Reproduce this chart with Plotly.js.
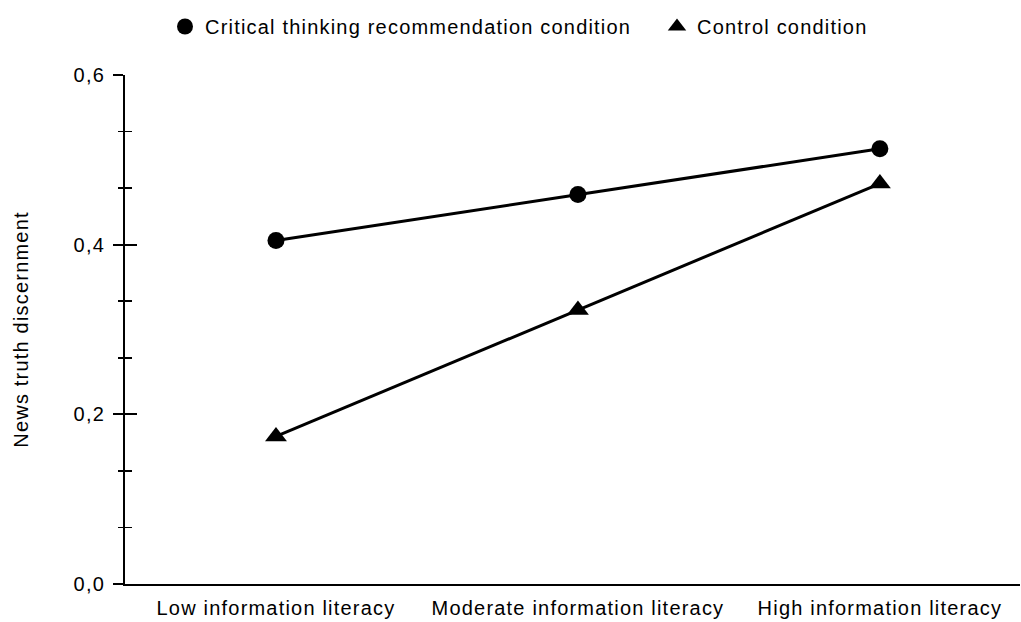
<!DOCTYPE html>
<html>
<head>
<meta charset="utf-8">
<script src="https://cdn.plot.ly/plotly-3.0.1.min.js"></script>
<style>
html,body{margin:0;padding:0;background:#fff;}
#chart{width:1021px;height:622px;}
svg text{letter-spacing:1.2px;}
</style>
</head>
<body>
<div id="chart"></div>
<script>
const categories = ["Low information literacy", "Moderate information literacy", "High information literacy"];
const criticalThinking = [0.405, 0.459, 0.513];
const control = [0.174, 0.323, 0.472];
const yTickVals = [0, 0.2, 0.4, 0.6];
const yTickText = ["0,0", "0,2", "0,4", "0,6"];
const seriesNames = ["Critical thinking recommendation condition", "Control condition"];
const xPos = [0, 1, 2];

const fam = "Liberation Sans, Arial, sans-serif";
const font = {family: fam, color: "#000", size: 20};

const traces = [
  {
    x: xPos, y: criticalThinking, type: "scatter", mode: "lines",
    line: {color: "#000", width: 3}, showlegend: false, hoverinfo: "skip"
  },
  {
    x: xPos, y: control, type: "scatter", mode: "lines",
    line: {color: "#000", width: 3}, showlegend: false, hoverinfo: "skip"
  },
  {
    x: xPos, y: criticalThinking, name: seriesNames[0],
    type: "scatter", mode: "markers",
    marker: {symbol: "circle", size: 17, color: "#000"},
    legend: "legend"
  },
  {
    x: xPos, y: control, name: seriesNames[1],
    type: "scatter", mode: "markers",
    marker: {symbol: "triangle-up", size: 19, color: "#000"},
    legend: "legend2"
  },
  {
    x: [], y: [], yaxis: "y2", type: "scatter", mode: "markers",
    showlegend: false, hoverinfo: "skip"
  }
];

const legendFont = {family: fam, size: 20, color: "#000"};
const layout = {
  width: 1021, height: 622,
  paper_bgcolor: "#fff", plot_bgcolor: "#fff",
  font: font,
  margin: {l: 125, r: 1, t: 75, b: 38},
  showlegend: true,
  legend: {
    orientation: "h", xref: "container", yref: "container",
    x: 165 / 1021, xanchor: "left", y: 1 - 7 / 622, yanchor: "top",
    font: legendFont, itemclick: false, bgcolor: "rgba(0,0,0,0)"
  },
  legend2: {
    orientation: "h", xref: "container", yref: "container",
    x: 657 / 1021, xanchor: "left", y: 1 - 7 / 622, yanchor: "top",
    font: legendFont, itemclick: false, bgcolor: "rgba(0,0,0,0)"
  },
  xaxis: {
    range: [-0.5, 2.464],
    tickvals: xPos, ticktext: categories,
    showline: true, linecolor: "#000", linewidth: 2,
    showgrid: false, zeroline: false, ticks: "",
    ticklabelstandoff: 5,
    tickfont: {family: fam, size: 20, color: "#000"}
  },
  yaxis: {
    range: [0, 0.6],
    tickvals: yTickVals, ticktext: yTickText,
    showline: true, linecolor: "#000", linewidth: 2,
    showgrid: false, zeroline: false,
    ticks: "outside", ticklen: 10, tickwidth: 2, tickcolor: "#000",
    ticklabelstandoff: 4,
    minor: {dtick: 0.2/3, tick0: 0, ticks: "outside", ticklen: 5, tickwidth: 1.5, tickcolor: "#000", showgrid: false},
    tickfont: {family: fam, size: 20, color: "#000"},
    title: {text: "News truth discernment", font: {family: fam, size: 20, color: "#000"}, standoff: 40}
  },
  yaxis2: {
    overlaying: "y", side: "left", anchor: "x",
    range: [0, 0.6],
    tickvals: yTickVals, showticklabels: false,
    showline: false, showgrid: false, zeroline: false,
    ticks: "inside", ticklen: 12, tickwidth: 2, tickcolor: "#000",
    minor: {dtick: 0.2/3, tick0: 0, ticks: "inside", ticklen: 7, tickwidth: 1.5, tickcolor: "#000", showgrid: false}
  }
};

Plotly.newPlot("chart", traces, layout, {displayModeBar: false, staticPlot: true});
</script>
</body>
</html>
